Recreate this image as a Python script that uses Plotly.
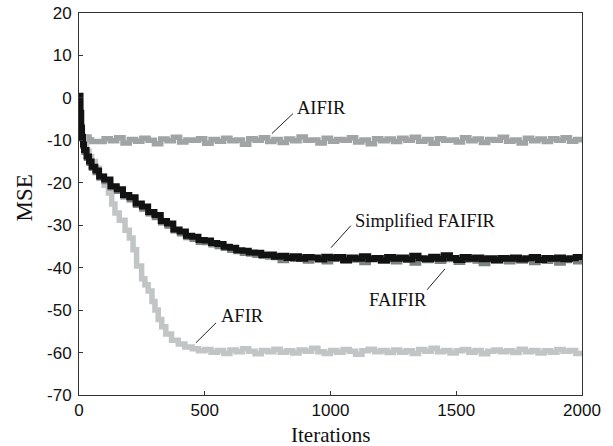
import plotly.graph_objects as go

# ---------------- data ----------------
# AIFIR
aifir_x = [0, 3, 6, 10, 15, 20, 30, 40, 50] + list(range(75, 2001, 25))
aifir_y = [-2.0, -5.5, -8.0, -9.0, -9.3, -9.6, -9.2, -9.9, -10.3,
           -10.3, -9.6, -10.1, -9.4, -10.6, -9.8, -10.2, -9.5, -10.0, -10.8,
           -9.7, -10.1, -9.3, -10.4, -9.9, -10.0, -9.6, -10.7, -9.8, -10.2,
           -9.5, -10.1, -9.9, -10.9, -9.6, -10.0, -9.4, -10.3, -9.8, -10.5,
           -9.7, -10.1, -9.2, -10.0, -9.9, -10.6, -9.5, -10.2, -9.8, -10.0,
           -9.4, -10.4, -9.9, -10.8, -9.6, -10.1, -9.7, -10.3, -9.5, -10.0,
           -9.3, -10.2, -9.8, -10.7, -9.6, -10.0, -9.9, -10.4, -9.4, -10.1,
           -9.7, -10.5, -9.8, -10.0, -9.3, -10.2, -9.9, -10.6, -9.5, -10.1,
           -9.7, -10.3, -9.6, -10.0, -9.4, -10.2, -9.8, -10.5]

# AFIR
afir_x = [0, 5, 10, 20, 30, 40, 50, 65, 80, 100,
          117, 130, 143, 160, 183, 200, 215, 229, 249, 262,
          275, 290, 302, 315, 329, 345, 368, 395, 421, 450,
          475] + list(range(500, 2001, 25))
afir_y = [-3.0, -6.5, -9.5, -11.2, -12.6, -13.8, -15.0, -16.6, -18.4, -20.6,
          -22.4, -25.0, -27.1, -28.8, -31.2, -33.0, -35.8, -39.6, -42.6, -44.0,
          -45.5, -48.0, -50.0, -52.2, -53.9, -55.6, -57.1, -58.0, -58.7, -59.1,
          -59.6,
          -59.3, -59.9, -59.5, -60.2, -59.4, -59.8, -59.1, -59.7, -60.3, -59.5,
          -59.8, -59.2, -59.9, -59.6, -60.1, -59.4, -59.7, -59.0, -59.8, -60.2,
          -59.5, -59.9, -59.3, -59.7, -60.4, -59.6, -59.2, -59.8, -59.5, -60.0,
          -59.4, -59.9, -59.6, -60.2, -59.3, -59.7, -59.0, -59.8, -59.5, -60.1,
          -59.6, -59.3, -59.9, -59.5, -60.3, -59.7, -59.4, -59.8, -59.6, -60.0,
          -59.2, -59.8, -59.5, -60.1, -59.6, -59.9, -59.3, -59.7, -59.5, -60.2,
          -59.7]

# FAIFIR and Simplified FAIFIR share the sampling
fa_x = [0, 3, 6, 9, 12, 16, 20, 30, 40, 50,
        65, 80, 100, 125, 150, 175, 200, 225, 250, 275,
        300, 325, 350, 375, 400, 425, 450, 475] + list(range(500, 2001, 25))
faifir_y = [-5.0, -1.0, -4.0, -7.5, -9.6, -11.4, -12.8, -14.2, -15.4, -16.6,
            -17.6, -18.9, -19.7, -21.2, -22.0, -23.3, -24.0, -25.3, -26.2, -27.3,
            -28.2, -29.4, -30.2, -31.3, -32.0, -32.9, -33.3, -34.0,
            -34.1, -34.6, -35.0, -35.4, -35.9, -36.2, -36.6, -36.8, -37.1, -37.3,
            -37.5, -37.6, -38.3, -37.8, -38.0, -37.7, -38.4, -37.9, -38.0, -38.6,
            -38.0, -37.7, -38.5, -37.9, -38.2, -38.8, -38.0, -37.8, -38.4, -38.1,
            -38.6, -37.9, -38.2, -38.9, -38.0, -38.3, -37.8, -38.5, -38.1, -38.0,
            -38.7, -38.2, -38.0, -38.4, -39.0, -38.1, -38.3, -38.0, -38.6, -38.2,
            -38.4, -38.0, -38.8, -38.2, -38.5, -38.1, -38.9, -38.3, -38.0, -38.6,
            -38.1]
simp_y = [-4.0, 0.5, -3.5, -7.0, -9.2, -11.0, -12.3, -13.8, -15.0, -16.2,
          -17.1, -18.5, -19.2, -20.8, -21.5, -22.9, -23.4, -24.9, -25.6, -26.9,
          -27.6, -29.0, -29.6, -31.0, -31.5, -32.5, -32.7, -33.5,
          -33.6, -34.2, -34.4, -35.1, -35.3, -35.9, -36.0, -36.4, -36.5, -37.0,
          -36.9, -37.4, -37.2, -37.7, -37.3, -37.9, -37.5, -37.6, -38.1, -37.4,
          -37.8, -37.5, -38.2, -37.6, -37.9, -37.3, -38.0, -37.7, -38.3, -37.5,
          -37.9, -37.6, -38.1, -37.2, -37.8, -38.0, -37.4, -37.9, -37.1, -37.7,
          -38.2, -37.5, -37.9, -37.6, -38.0, -37.8, -38.3, -37.7, -37.9, -37.6,
          -38.1, -37.8, -37.5, -38.2, -37.7, -37.9, -37.6, -38.0, -37.8, -37.5,
          -37.7]

x_ticks = [0, 500, 1000, 1500, 2000]
x_tick_text = ["0", "500", "1000", "1500", "2000"]
y_ticks = [20, 10, 0, -10, -20, -30, -40, -50, -60, -70]
y_tick_text = ["20", "10", "0", "-10", "-20", "-30", "-40", "-50", "-60", "-70"]

# labels: (text, leader start x,y, leader end x,y, text x,y)
labels = [
    ("AIFIR", 767, -8.4, 851, -3.7, 859, -2.3),
    ("Simplified FAIFIR", 1002, -35.3, 1081, -30.1, 1089, -28.9),
    ("FAIFIR", 1455, -40.3, 1384, -45.2, 1145, -47.6),
    ("AFIR", 465, -57.7, 545, -53.0, 557, -51.3),
]

assert len(aifir_x) == len(aifir_y)
assert len(afir_x) == len(afir_y)
assert len(fa_x) == len(faifir_y) == len(simp_y)

fig = go.Figure()
fig.add_trace(go.Scatter(x=aifir_x, y=aifir_y, mode="lines",
                         line=dict(color="#a1a4a4", width=5.5, shape="hv"), name="AIFIR"))
fig.add_trace(go.Scatter(x=afir_x, y=afir_y, mode="lines",
                         line=dict(color="#c2c5c5", width=5.5, shape="hv"), name="AFIR"))
fig.add_trace(go.Scatter(x=fa_x, y=faifir_y, mode="lines",
                         line=dict(color="#7c8182", width=5.5, shape="hv"), name="FAIFIR"))
fig.add_trace(go.Scatter(x=fa_x, y=simp_y, mode="lines",
                         line=dict(color="#121212", width=6, shape="hv"), name="Simplified FAIFIR"))

for text, x0, y0, x1, y1, tx, ty in labels:
    fig.add_shape(type="line", xref="x", yref="y", x0=x0, y0=y0, x1=x1, y1=y1,
                  line=dict(color="#222222", width=1))
    fig.add_annotation(x=tx, y=ty, xref="x", yref="y", text=text, showarrow=False,
                       xanchor="left", yanchor="middle",
                       font=dict(family="Liberation Serif", size=18.5, color="#111111"))

# axis titles
fig.add_annotation(x=0.5, y=-0.104, xref="paper", yref="paper", text="Iterations",
                   showarrow=False, xanchor="center", yanchor="middle", borderpad=0,
                   font=dict(family="Liberation Serif", size=21, color="#111111"))
fig.add_annotation(x=-0.109, y=0.515, xref="paper", yref="paper", text="MSE",
                   showarrow=False, xanchor="center", yanchor="middle", textangle=-90,
                   font=dict(family="Liberation Serif", size=23, color="#111111"))

axis_common = dict(showline=True, linecolor="#333333", linewidth=1, mirror=True,
                   ticks="inside", ticklen=4, tickcolor="#333333", showgrid=False,
                   zeroline=False, automargin=False,
                   tickfont=dict(family="Liberation Sans", size=17, color="#111111"))

fig.update_layout(
    width=613, height=446,
    margin=dict(l=79, r=31, t=13, b=51),
    paper_bgcolor="white", plot_bgcolor="white",
    showlegend=False,
    xaxis=dict(range=[0, 2000], tickvals=x_ticks, ticktext=x_tick_text,
               ticklabelstandoff=0, **axis_common),
    yaxis=dict(range=[-70, 20], tickvals=y_ticks, ticktext=y_tick_text,
               ticklabelstandoff=3, **axis_common),
)

fig.write_html("out.html")
